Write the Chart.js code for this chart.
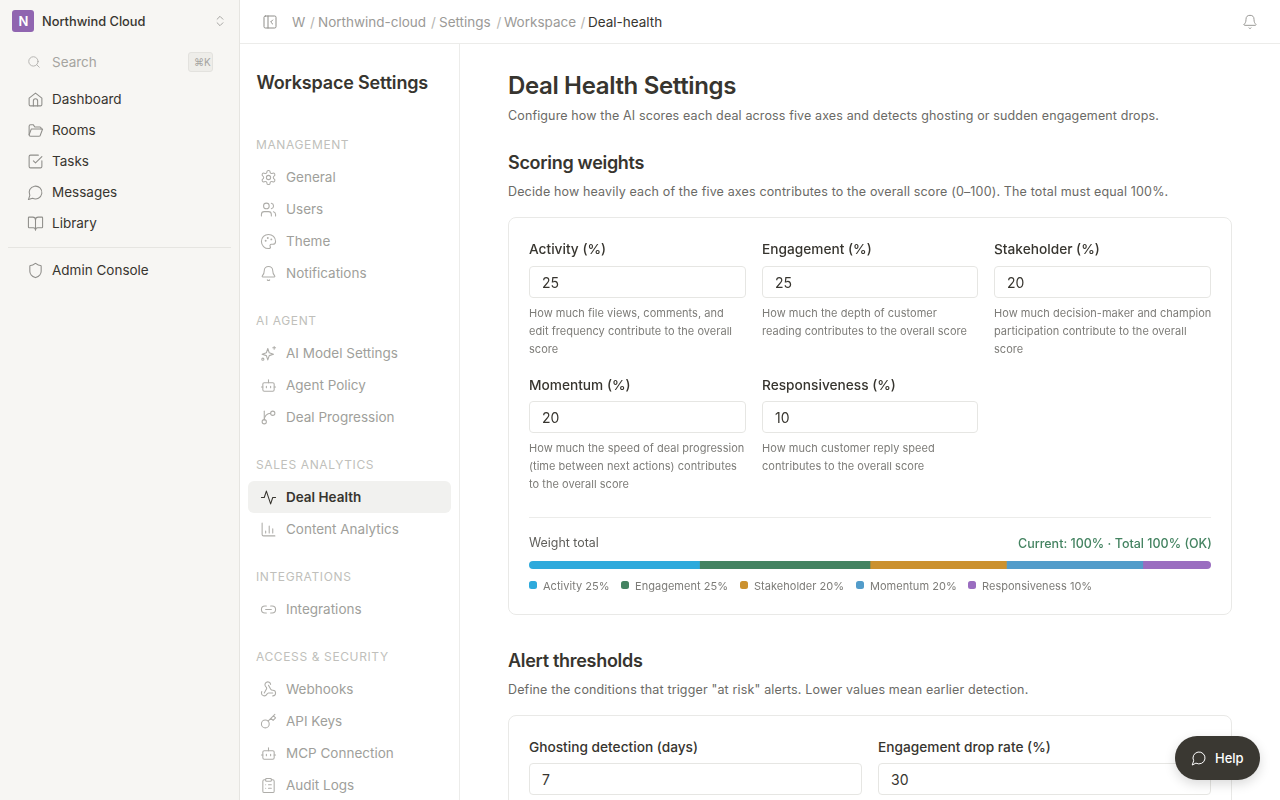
<!DOCTYPE html>
<html>
<head>
<meta charset="utf-8">
<title>Deal Health Settings</title>
<script src="https://cdn.jsdelivr.net/npm/chart.js@4"></script>
<style>
html,body{margin:0;padding:0;width:1280px;height:800px;overflow:hidden;background:#fff;font-family:Inter,sans-serif;color:#37352f}
.t{position:absolute;white-space:nowrap;transform:translateY(-50%);line-height:1.2}
.box{position:absolute;box-sizing:border-box}
svg.i{position:absolute;fill:none;stroke-width:1.5;stroke-linecap:round;stroke-linejoin:round}
#barWrap{position:absolute;left:529px;top:561px;width:682px;height:8px;border-radius:4px;overflow:hidden}
</style>
</head>
<body>
<div class="box" style="left:0;top:0;width:240px;height:800px;background:#f7f6f3;border-right:1px solid #e6e5e1"></div>
<div class="box" style="left:240px;top:0;width:1040px;height:44px;border-bottom:1px solid #ececea"></div>
<div class="box" style="left:240px;top:44px;width:220px;height:756px;border-right:1px solid #ececea"></div>
<div id="barWrap"><canvas id="weightChart"></canvas></div>
<script>
// chart data
const weightLabels = ["Activity", "Engagement", "Stakeholder", "Momentum", "Responsiveness"];
const weightValues = [25, 25, 20, 20, 10];
const weightColors = ["#2eaadc", "#448361", "#cb912f", "#529cca", "#9a6dc0"];

const icons = {
    home: '<path d="M3 10l9-7 9 7v9a2 2 0 0 1-2 2H5a2 2 0 0 1-2-2z"/><path d="M9 21v-7a3 3 0 0 1 6 0v7"/>',
    folder: '<path d="M3 18V6a2 2 0 0 1 2-2h4l2 3h7a2 2 0 0 1 2 2v1"/><path d="M3 18l3-8h16l-3 8a2 2 0 0 1-2 2H5a2 2 0 0 1-2-2z"/>',
    check: '<path d="M21 11v8a2 2 0 0 1-2 2H5a2 2 0 0 1-2-2V5a2 2 0 0 1 2-2h11"/><path d="M9 11l3 3L21 5"/>',
    chat: '<path d="M7.9 20A9 9 0 1 0 4 16.1L2 22z"/>',
    book: '<path d="M12 7v14"/><path d="M3 18a1 1 0 0 1-1-1V4a1 1 0 0 1 1-1h5a4 4 0 0 1 4 4 4 4 0 0 1 4-4h5a1 1 0 0 1 1 1v13a1 1 0 0 1-1 1h-6a3 3 0 0 0-3 3 3 3 0 0 0-3-3z"/>',
    shield: '<path d="M20 13c0 5-3.500 7.500-7.700 9a1 1 0 0 1-.6 0C7.500 20.500 4 18 4 13V6a1 1 0 0 1 1-1c2 0 4.500-1.200 6.200-2.700a1.200 1.200 0 0 1 1.600 0C14.500 3.800 17 5 19 5a1 1 0 0 1 1 1z"/>',
    search: '<circle cx="11" cy="11" r="8"/><path d="M21 21l-4.300-4.300"/>',
    gear: '<circle cx="12" cy="12" r="3"/><path d="M12.220 2h-.44a2 2 0 0 0-2 2v.18a2 2 0 0 1-1 1.730l-.43.25a2 2 0 0 1-2 0l-.15-.08a2 2 0 0 0-2.730.73l-.22.38a2 2 0 0 0 .73 2.730l.15.1a2 2 0 0 1 1 1.720v.51a2 2 0 0 1-1 1.740l-.15.09a2 2 0 0 0-.73 2.730l.22.38a2 2 0 0 0 2.730.73l.15-.08a2 2 0 0 1 2 0l.43.25a2 2 0 0 1 1 1.730V20a2 2 0 0 0 2 2h.44a2 2 0 0 0 2-2v-.18a2 2 0 0 1 1-1.730l.43-.25a2 2 0 0 1 2 0l.15.08a2 2 0 0 0 2.730-.73l.22-.39a2 2 0 0 0-.73-2.730l-.15-.08a2 2 0 0 1-1-1.740v-.5a2 2 0 0 1 1-1.740l.15-.09a2 2 0 0 0 .73-2.730l-.22-.38a2 2 0 0 0-2.730-.73l-.15.08a2 2 0 0 1-2 0l-.43-.25a2 2 0 0 1-1-1.730V4a2 2 0 0 0-2-2z"/>',
    users: '<path d="M16 21v-2a4 4 0 0 0-4-4H6a4 4 0 0 0-4 4v2"/><circle cx="9" cy="7" r="4"/><path d="M22 21v-2a4 4 0 0 0-3-3.900"/><path d="M16 3.100a4 4 0 0 1 0 7.800"/>',
    palette: '<path d="M12 22a10 10 0 1 1 10-10c0 3-2 4-4 4h-2a2 2 0 0 0-1.500 3.300c.8 1 .2 2.700-2.500 2.700z"/><circle cx="8" cy="11" r=".6"/><circle cx="11" cy="7" r=".6"/><circle cx="16" cy="9" r=".6"/>',
    bell: '<path d="M10.300 21a2 2 0 0 0 3.400 0"/><path d="M3.300 15.300A1 1 0 0 0 4 17h16a1 1 0 0 0 .7-1.700C19.400 14 18 12.500 18 8A6 6 0 0 0 6 8c0 4.500-1.400 6-2.700 7.300"/>',
    sparkles: '<path d="M11 5l2 6 6 2-6 2-2 6-2-6-6-2 6-2z"/><path d="M20 2v4M18 4h4"/><circle cx="4" cy="20" r="1.500"/>',
    bot: '<path d="M12 8V4"/><rect x="4" y="8" width="16" height="12" rx="2"/><path d="M2 14h2M20 14h2M9 13v2M15 13v2"/>',
    branch: '<path d="M6 3v12"/><circle cx="18" cy="6" r="3"/><circle cx="6" cy="18" r="3"/><path d="M15 6a9 9 0 0 0-9 9"/>',
    pulse: '<path d="M22 12h-4l-3 9L9 3l-3 9H2"/>',
    bars: '<path d="M3 3v16a2 2 0 0 0 2 2h16"/><path d="M8 17v-3M13 17V7M18 17v-6"/>',
    link: '<path d="M9 17H7A5 5 0 0 1 7 7h2"/><path d="M15 7h2a5 5 0 1 1 0 10h-2"/><path d="M8 12h8"/>',
    hook: '<path d="M18 16.980h-5.990c-1.100 0-1.950.940-2.480 1.900A4 4 0 0 1 2 17c.01-.700.200-1.400.570-2"/><path d="M6 17l3.130-5.780c.530-.970.100-2.180-.720-2.920A4 4 0 1 1 15 5"/><path d="M12 6l3.130 5.730C15.660 12.700 16.900 13 18 13a4 4 0 0 1 0 8"/>',
    key: '<circle cx="7.500" cy="15.500" r="5.500"/><path d="M21 2l-9.600 9.600M15.500 7.500l3 3L22 7l-3-3"/>',
    clip: '<rect x="8" y="2" width="8" height="4" rx="1"/><path d="M16 4h2a2 2 0 0 1 2 2v14a2 2 0 0 1-2 2H6a2 2 0 0 1-2-2V6a2 2 0 0 1 2-2h2"/><path d="M12 11h4M12 16h4M8 11h.01M8 16h.01"/>',
    panel: '<rect x="3" y="3" width="18" height="18" rx="2"/><path d="M9 3v18M16 15l-3-3 3-3"/>',
    updown: '<path d="M7 15l5 5 5-5M7 9l5-5 5 5"/>'
};

function txt(x, y, s, size, color, weight, extra) {
    const el = document.createElement("div");
    el.className = "t";
    el.textContent = s;
    el.style.cssText = "left:" + x + "px;top:" + y + "px;font-size:" + size + "px;color:" + color + ";font-weight:" + (weight || 400) + ";" + (extra || "");
    document.body.appendChild(el);
    return el;
}
function box(x, y, w, h, css) {
    const el = document.createElement("div");
    el.className = "box";
    el.style.cssText = "left:" + x + "px;top:" + y + "px;width:" + w + "px;height:" + h + "px;" + css;
    document.body.appendChild(el);
    return el;
}
function icon(name, x, y, size, color) {
    document.body.insertAdjacentHTML("beforeend",
        '<svg class="i" viewBox="0 0 24 24" style="left:' + x + 'px;top:' + y + 'px;width:' + size + 'px;height:' + size + 'px;stroke:' + color + '">' + icons[name] + '</svg>');
}

// left sidebar
box(12, 10, 22, 22, "background:#9065b0;border-radius:3px");
txt(18.500, 21.500, "N", 13, "#fff", 600);
txt(42, 21.500, "Northwind Cloud", 12.800, "#37352f", 500);
icon("updown", 213, 14, 14, "#9b9a97");
icon("search", 27, 55, 14, "#aeada9");
txt(52, 62, "Search", 13.500, "#a5a4a0");
box(188, 52, 25, 20, "background:#eeede9;border:1px solid #e3e2de;border-radius:3px");
txt(194, 61.500, "⌘K", 10, "#a5a4a0");
const mainNav = [["Dashboard", "home", 99], ["Rooms", "folder", 130], ["Tasks", "check", 161], ["Messages", "chat", 192], ["Library", "book", 223], ["Admin Console", "shield", 270]];
mainNav.forEach(function (n) {
    icon(n[1], 26.500, n[2] - 8.500, 17, "#8f8e8a");
    txt(52, n[2], n[0], 13.500, "#37352f");
});
box(8, 247, 223, 1, "background:#e6e5e1");

// settings sidebar
txt(256.500, 83, "Workspace Settings", 18, "#37352f", 600, "letter-spacing:-.18px");
const groupLabels = [["MANAGEMENT", 145], ["AI AGENT", 321], ["SALES ANALYTICS", 465], ["INTEGRATIONS", 577], ["ACCESS & SECURITY", 657]];
groupLabels.forEach(function (g) {
    txt(256, g[1], g[0], 12, "#c0bfbb", 400, "letter-spacing:.62px");
});
box(248, 481, 203, 32, "background:#f1f1ef;border-radius:6px");
const settingsNav = [["General", "gear", 177], ["Users", "users", 209], ["Theme", "palette", 241], ["Notifications", "bell", 273],
    ["AI Model Settings", "sparkles", 353], ["Agent Policy", "bot", 385], ["Deal Progression", "branch", 417],
    ["Deal Health", "pulse", 497], ["Content Analytics", "bars", 529], ["Integrations", "link", 609],
    ["Webhooks", "hook", 689], ["API Keys", "key", 721], ["MCP Connection", "bot", 753], ["Audit Logs", "clip", 785]];
settingsNav.forEach(function (n) {
    const on = n[0] === "Deal Health";
    icon(n[1], 259.500, n[2] - 8.500, 17, on ? "#37352f" : "#aeada9");
    txt(286, n[2], n[0], 13.500, on ? "#37352f" : "#a09f9b", on ? 600 : 400);
});

// top bar
icon("panel", 262, 14, 16, "#8f8e8a");
const crumbs = [["W", 292], ["/", 310], ["Northwind-cloud", 318], ["/", 431], ["Settings", 439], ["/", 496.500], ["Workspace", 504], ["/", 580.500]];
crumbs.forEach(function (c) {
    txt(c[1], 22, c[0], 13.500, c[0] === "/" ? "#b5b4b0" : "#9b9a97");
});
txt(588, 22, "Deal-health", 13.500, "#37352f", 400);
icon("bell", 1242, 14, 16, "#9b9a97");

// main head
txt(508, 86, "Deal Health Settings", 24, "#37352f", 600, "letter-spacing:-.35px");
txt(508, 115, "Configure how the AI scores each deal across five axes and detects ghosting or sudden engagement drops.", 12.500, "#6b6a66", 400, "letter-spacing:.13px");
txt(508, 163, "Scoring weights", 18, "#37352f", 600, "letter-spacing:-.3px");
txt(508, 191, "Decide how heavily each of the five axes contributes to the overall score (0–100). The total must equal 100%.", 12.500, "#6b6a66", 400, "letter-spacing:.15px");

// weights card
box(508, 217, 724, 398, "border:1px solid #e9e9e7;border-radius:8px");
const fields = [
    ["Activity (%)", "25", 529, 217, 249, 266, 313.500, ["How much file views, comments, and", "edit frequency contribute to the overall", "score"]],
    ["Engagement (%)", "25", 762, 216, 249, 266, 313.500, ["How much the depth of customer", "reading contributes to the overall score"]],
    ["Stakeholder (%)", "20", 994, 217, 249, 266, 313.500, ["How much decision-maker and champion", "participation contribute to the overall", "score"]],
    ["Momentum (%)", "20", 529, 217, 385, 401, 449, ["How much the speed of deal progression", "(time between next actions) contributes", "to the overall score"]],
    ["Responsiveness (%)", "10", 762, 216, 385, 401, 449, ["How much customer reply speed", "contributes to the overall score"]]
];
fields.forEach(function (f) {
    txt(f[2], f[4], f[0], 13.700, "#37352f", 450);
    box(f[2], f[5], f[3], 32, "border:1px solid #e6e6e3;border-radius:4px");
    txt(f[2] + 13, f[5] + 16.500, f[1], 14, "#37352f");
    f[7].forEach(function (line, i) {
        txt(f[2], f[6] + i * 18, line, 11, "#7d7c78", 400, "letter-spacing:.03px");
    });
});
box(529, 517, 682, 1, "background:#ececea");
txt(529, 542.500, "Weight total", 12.400, "#5f5e5a");
txt(1018, 542.500, "Current: 100% · Total 100% (OK)", 12.500, "#448361", 450);

// legend, from the chart arrays
const legendX = [529, 621, 740, 856, 968];
weightLabels.forEach(function (l, i) {
    box(legendX[i], 581, 8, 8, "border-radius:2.500px;background:" + weightColors[i]);
    txt(legendX[i] + 14, 586.500, l + " " + weightValues[i] + "%", 11, "#7d7c78", 400, "letter-spacing:.03px");
});

// alert thresholds
txt(508, 661, "Alert thresholds", 18, "#37352f", 600, "letter-spacing:-.3px");
txt(508, 689, "Define the conditions that trigger \"at risk\" alerts. Lower values mean earlier detection.", 12.500, "#6b6a66", 400, "letter-spacing:.15px");
box(508, 715, 724, 120, "border:1px solid #e9e9e7;border-radius:8px");
txt(529, 747, "Ghosting detection (days)", 13.700, "#37352f", 450);
box(529, 763, 333, 32, "border:1px solid #e6e6e3;border-radius:4px");
txt(542, 780, "7", 14, "#37352f");
txt(878, 747, "Engagement drop rate (%)", 13.700, "#37352f", 450);
box(878, 763, 333, 32, "border:1px solid #e6e6e3;border-radius:4px");
txt(891, 780, "30", 14, "#37352f");

// help button
box(1175, 736, 85, 44, "background:#3a3832;border-radius:22px;box-shadow:0 4px 12px rgba(0,0,0,.15)");
icon("chat", 1191, 750, 16, "#fff");
txt(1215, 758.500, "Help", 13, "#fff", 450);

// stacked weight bar
const ctx = document.getElementById('weightChart').getContext('2d');
const myChart = new Chart(ctx, {
    type: 'bar',
    data: {
        labels: ["Weight total"],
        datasets: weightLabels.map(function (l, i) {
            return {
                label: l,
                data: [weightValues[i]],
                backgroundColor: weightColors[i],
                borderWidth: 0,
                barPercentage: 1,
                categoryPercentage: 1
            };
        })
    },
    options: {
        indexAxis: 'y',
        animation: false,
        responsive: true,
        maintainAspectRatio: false,
        layout: { padding: 0 },
        plugins: {
            legend: { display: false },
            tooltip: { enabled: false }
        },
        scales: {
            x: { stacked: true, display: false, min: 0, max: 100 },
            y: { stacked: true, display: false }
        }
    }
});
</script>
</body>
</html>
